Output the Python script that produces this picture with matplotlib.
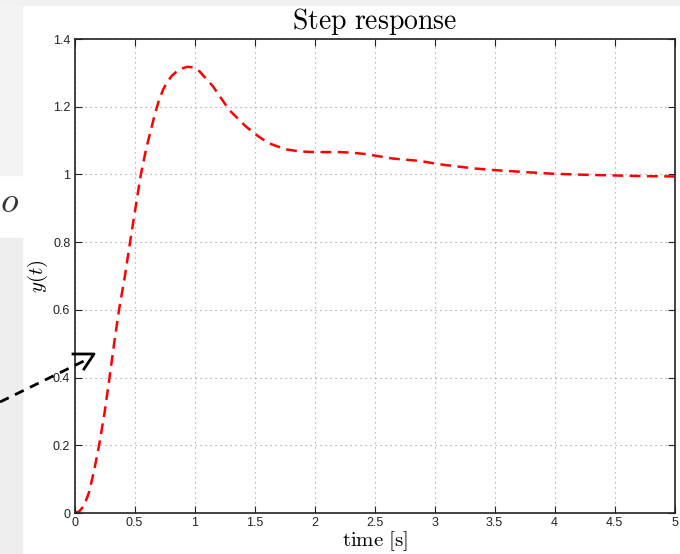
import matplotlib
matplotlib.use('Agg')
import matplotlib.pyplot as plt
from matplotlib.lines import Line2D
from matplotlib.patches import Rectangle

# step response
t = [0, 0.04, 0.08, 0.12, 0.16, 0.205, 0.25, 0.288, 0.33, 0.371, 0.42,
     0.463, 0.51, 0.553, 0.6, 0.664, 0.7, 0.74, 0.775, 0.81, 0.845, 0.89, 0.94, 0.99,
     1.04, 1.15, 1.29, 1.43, 1.53, 1.62, 1.76, 1.88, 1.985, 2.1, 2.21, 2.32,
     2.43, 2.65, 2.876, 3.04, 3.32, 3.49, 3.75, 3.99, 4.25, 4.49, 4.75, 5.0]
y = [0, 0.005, 0.022, 0.06, 0.12, 0.2, 0.295, 0.39, 0.5, 0.6, 0.7,
     0.8, 0.905, 1.0, 1.08, 1.17, 1.215, 1.252, 1.274, 1.291, 1.302, 1.312, 1.318, 1.316,
     1.305, 1.262, 1.19, 1.141, 1.113, 1.092, 1.074, 1.068, 1.066, 1.066, 1.066, 1.064,
     1.06, 1.047, 1.04, 1.03, 1.018, 1.013, 1.007, 1.002, 0.999, 0.997, 0.995, 0.994]

xticks = [0, 0.5, 1, 1.5, 2, 2.5, 3, 3.5, 4, 4.5, 5]
xtick_labels = ['0', '0.5', '1', '1.5', '2', '2.5', '3', '3.5', '4', '4.5', '5']
yticks = [0, 0.2, 0.4, 0.6, 0.8, 1, 1.2, 1.4]
ytick_labels = ['0', '0.2', '0.4', '0.6', '0.8', '1', '1.2', '1.4']

plt.rcParams['mathtext.fontset'] = 'cm'
plt.rcParams['font.family'] = ['Liberation Sans', 'DejaVu Sans']

W, H = 680, 554
fig = plt.figure(figsize=(W / 100, H / 100), dpi=100)


def fx(px):
    return px / W


def fy(py):
    return 1 - py / H


# screenshot leftovers around the figure
fig.add_artist(Rectangle((0, fy(5)), 1, 5 / H, transform=fig.transFigure,
                         color='#f1f1f1', zorder=0))
fig.add_artist(Rectangle((0, fy(175)), fx(22), 170 / H, transform=fig.transFigure,
                         color='#f3f3f3', zorder=0))
fig.add_artist(Rectangle((0, 0), fx(22), fy(238), transform=fig.transFigure,
                         color='#eeeeee', zorder=0))
fig.text(fx(0), fy(203), r'$o$', fontsize=26, color='#333333', va='center')

ax = fig.add_axes([fx(74.5), fy(513), fx(674.5) - fx(74.5), fy(39) - fy(513)])
ax.plot(t, y, color='red', linewidth=1.8, linestyle=(0, (4.3, 2.6)))

ax.set_xlim(0, 5)
ax.set_ylim(0, 1.4)
ax.set_xticks(xticks)
ax.set_xticklabels(xtick_labels)
ax.set_yticks(yticks)
ax.set_yticklabels(ytick_labels)
ax.tick_params(direction='in', length=5, width=0.8, labelsize=9,
               top=True, right=True, pad=3, colors='#222222')
ax.grid(True, color='#999999', linestyle=(0, (1, 3.5)), linewidth=0.8)
for s in ax.spines.values():
    s.set_linewidth(1.2)
    s.set_color('#222222')

ax.set_title(r'$\mathrm{Step\ response}$', fontsize=20, pad=7)
ax.set_xlabel(r'$\mathrm{time}\ [\mathrm{s}]$', fontsize=15, labelpad=0)
ax.set_ylabel(r'$y(t)$', fontsize=15, labelpad=2)

# dashed pointer arrow from the slide
fig.add_artist(Line2D([fx(0), fx(88)], [fy(402), fy(359)], transform=fig.transFigure,
                      color='black', linewidth=2, linestyle=(0, (3.5, 2.5)), zorder=5))
fig.add_artist(Line2D([fx(73), fx(94), fx(84)], [fy(354), fy(354), fy(369)],
                      transform=fig.transFigure, color='black', linewidth=2, zorder=5))

fig.savefig('out.png', dpi=100)
